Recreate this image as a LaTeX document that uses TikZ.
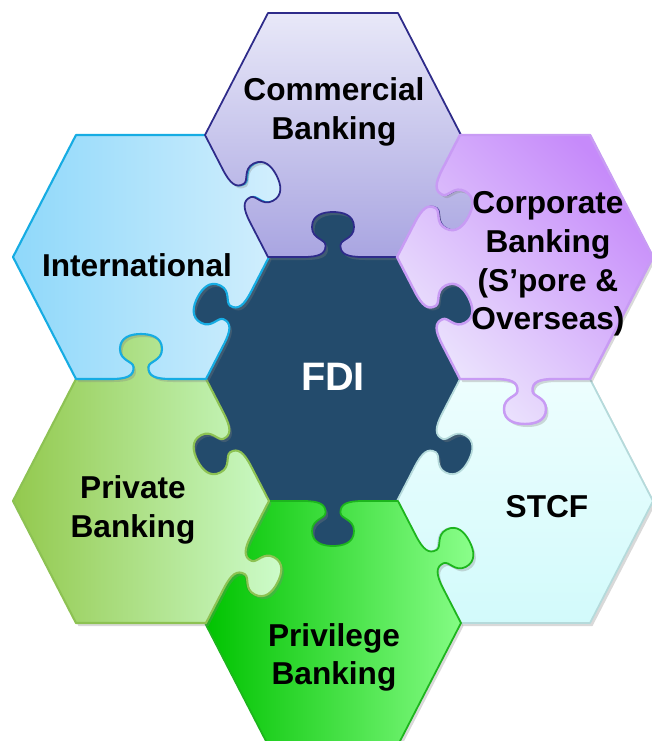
\documentclass[tikz,border=0pt]{standalone}
\usepackage{fontspec}
\setmainfont{Liberation Sans}
\usetikzlibrary{calc, shadows}

\definecolor{fdiblue}{HTML}{234B6C}
\definecolor{commtop}{HTML}{E8E8F8}
\definecolor{commbot}{HTML}{A9A5E1}
\definecolor{commline}{HTML}{2E2B8A}
\definecolor{corpdark}{HTML}{C68AFA}
\definecolor{corplight}{HTML}{EEEAFD}
\definecolor{corpline}{HTML}{C89BF4}
\definecolor{intlleft}{HTML}{8FD8FA}
\definecolor{intlright}{HTML}{D3EFFD}
\definecolor{intlline}{HTML}{16ACE3}
\definecolor{stcftop}{HTML}{EDFEFE}
\definecolor{stcfbot}{HTML}{D2FAFB}
\definecolor{stcfline}{HTML}{B5DADB}
\definecolor{pvtleft}{HTML}{93C94E}
\definecolor{pvtmid}{HTML}{C9F79C}
\definecolor{pvtright}{HTML}{CDFCCB}
\definecolor{pvtline}{HTML}{8DC253}
\definecolor{prvleft}{HTML}{00C300}
\definecolor{prvmid}{HTML}{5BF15B}
\definecolor{prvright}{HTML}{8CFF8C}
\definecolor{prvline}{HTML}{1DB51D}

\tikzset{
  knob/.style={to path={let \p1=(\tikztostart), \p2=(\tikztotarget),
      \n1={atan2(\y2-\y1,\x2-\x1)} in
    -- ($(\p1)!0.5!(\p2)!0.3cm!(\p1)$)
    {[shift={($(\p1)!0.5!(\p2)$)}, rotate=\n1, yscale=#1]
      .. controls (-0.14,0) and (-0.07,0.03) .. (-0.075,0.12)
      .. controls (-0.08,0.18) and (-0.21,0.18) .. (-0.21,0.30)
      .. controls (-0.21,0.42) and (-0.10,0.45) .. (0,0.45)
      .. controls (0.10,0.45) and (0.21,0.42) .. (0.21,0.30)
      .. controls (0.21,0.18) and (0.08,0.18) .. (0.075,0.12)
      .. controls (0.07,0.03) and (0.14,0) .. (0.3,0)}
    -- (\tikztotarget)}},
  knob out/.style={knob=-1},
  knob in/.style={knob=1},
  piece/.style={line width=0.5pt, line join=round,
    drop shadow={shadow xshift=0.25mm, shadow yshift=-0.3mm, opacity=0.3}},
  lbl/.style={font=\bfseries\fontsize{9}{11}\selectfont, align=center}
}

\begin{document}
\begin{tikzpicture}
  \useasboundingbox (-3.33,-3.62) rectangle (3.19,3.79);
  \clip (-3.33,-3.62) rectangle (3.19,3.79);

  % centres of the pieces
  \coordinate (fdi) at (0,0);
  \coordinate (comm) at (0,2.44);
  \coordinate (corp) at (1.92,1.22);
  \coordinate (stcf) at (1.92,-1.22);
  \coordinate (prv) at (0,-2.44);
  \coordinate (pvt) at (-1.92,-1.22);
  \coordinate (intl) at (-1.92,1.22);

  % corners, counter clockwise from the right one
  \foreach \c in {fdi,comm,corp,stcf,prv,pvt,intl}
    \foreach \dx/\dy [count=\k from 0] in {1.28/0,0.65/1.22,-0.65/1.22,-1.28/0,-0.65/-1.22,0.65/-1.22}
      \coordinate (\c-\k) at ($(\c)+(\dx,\dy)$);

  \draw[line width=0.5pt, fill=fdiblue, draw=fdiblue]
    (fdi-0) to[knob out] (fdi-1) to[knob out] (fdi-2) to[knob out] (fdi-3)
    to[knob out] (fdi-4) to[knob out] (fdi-5) to[knob out] (fdi-0) -- cycle;

  \draw[piece, draw=stcfline, top color=stcftop, bottom color=stcfbot]
    (stcf-0) -- (stcf-1) to[knob in] (stcf-2) to[knob in] (stcf-3)
    to[knob in] (stcf-4) -- (stcf-5) -- cycle;

  \draw[piece, draw=prvline, left color=prvleft, middle color=prvmid, right color=prvright]
    (prv-0) to[knob out] (prv-1) to[knob in] (prv-2) to[knob in] (prv-3)
    -- (prv-4) -- (prv-5) -- cycle;

  \draw[piece, line width=0.6pt, draw=pvtline, left color=pvtleft, middle color=pvtmid, right color=pvtright]
    (pvt-0) to[knob in] (pvt-1) to[knob out] (pvt-2) -- (pvt-3) -- (pvt-4)
    -- (pvt-5) to[knob out] (pvt-0) -- cycle;

  \draw[piece, line width=0.6pt, draw=intlline, left color=intlleft, right color=intlright]
    (intl-0) to[knob out] (intl-1) -- (intl-2) -- (intl-3) -- (intl-4)
    to[knob in] (intl-5) to[knob in] (intl-0) -- cycle;

  \draw[piece, draw=commline, top color=commtop, bottom color=commbot]
    (comm-0) -- (comm-1) -- (comm-2) -- (comm-3) to[knob in] (comm-4)
    to[knob in] (comm-5) to[knob out] (comm-0) -- cycle;

  \draw[piece, line width=0.7pt, draw=corpline, top color=corpdark, bottom color=corplight, shading angle=-45]
    (corp-0) -- (corp-1) -- (corp-2) to[knob in] (corp-3) to[knob in] (corp-4)
    to[knob out] (corp-5) -- (corp-0) -- cycle;

  % labels
  \node[lbl] (commtext) at (0.01,2.67) {Commercial\\Banking};
  \node[lbl] (corptext) at (2.15,1.15) {Corporate\\Banking\\(S’pore \&\\Overseas)};
  \node[lbl] (intltext) at (-1.96,1.14) {International};
  \node[lbl, text=white, font=\bfseries\fontsize{11.3}{13}\selectfont] (fditext) at (0,0.02) {FDI};
  \node[lbl] (pvttext) at (-2.00,-1.31) {Private\\Banking};
  \node[lbl] (stcftext) at (2.14,-1.275) {STCF};
  \node[lbl] (prvtext) at (0.01,-2.785) {Privilege\\Banking};
\end{tikzpicture}
\end{document}
